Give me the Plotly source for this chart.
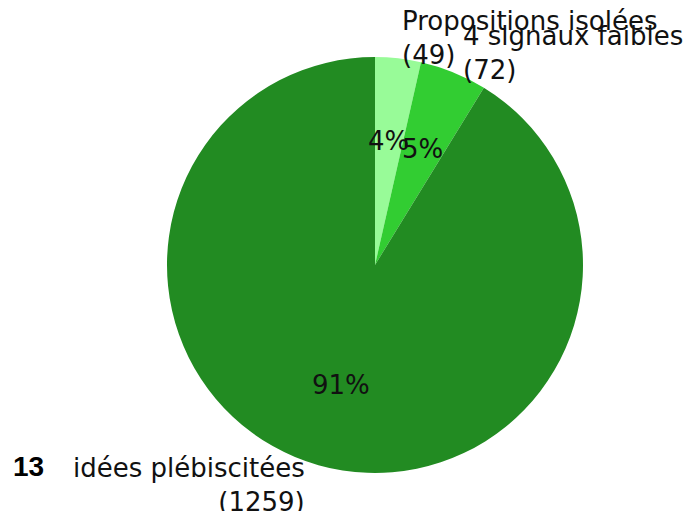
import math
import plotly.graph_objects as go

# Données du camembert
labels = ["Propositions isolées", "4 signaux faibles", "idées plébiscitées"]
values = [49, 72, 1259]
colors = ["#98FB98", "#32CD32", "#228B22"]
question_num = "13"

W, H = 688, 511
M = dict(l=167, r=105, t=57, b=38)

FONT = "DejaVu Sans, sans-serif"
FS = 26

fig = go.Figure(go.Pie(
    labels=labels,
    values=values,
    marker=dict(colors=colors, line=dict(width=0)),
    sort=False,
    direction="clockwise",
    rotation=0,
    textinfo="none",
    hoverinfo="label+value+percent",
    showlegend=False,
))

# étiquettes façon matplotlib : labeldistance=1.1, pctdistance=0.6
total = sum(values)
annotations = []
start = 90.0
for lab, v in zip(labels, values):
    span = 360.0 * v / total
    mid = math.radians(start - span / 2)
    start -= span
    cx, cy = math.cos(mid), math.sin(mid)
    annotations.append(dict(
        x=0.5 + 0.5 * 0.6 * cx, y=0.5 + 0.5 * 0.6 * cy,
        xref="paper", yref="paper", showarrow=False,
        text=f"{round(100 * v / total)}%",
        xanchor="center", yanchor="middle",
        font=dict(family=FONT, size=FS, color="#111"),
    ))
    right = cx > 0
    annotations.append(dict(
        x=0.5 + 0.5 * 1.1 * cx, y=0.5 + 0.5 * 1.1 * cy,
        xref="paper", yref="paper", showarrow=False,
        text=f"{lab}<br>({v})",
        xanchor="left" if right else "right", yanchor="middle",
        align="left" if right else "right",
        xshift=0 if right else -6,
        font=dict(family=FONT, size=FS, color="#111"),
    ))

annotations.append(dict(
    x=-0.375, y=0.015, xref="paper", yref="paper", showarrow=False,
    text=f"<b>{question_num}</b>", xanchor="left", yanchor="middle",
    font=dict(family="Liberation Sans, Arial, sans-serif", size=28, color="#000"),
))

fig.update_layout(
    width=W, height=H,
    margin=M,
    paper_bgcolor="white",
    plot_bgcolor="white",
    annotations=annotations,
)

# pas de marge ni de barres de défilement autour du graphique
fig.write_html(
    "out.html",
    config={"displayModeBar": False},
    post_script="document.body.style.margin='0';document.body.style.overflow='hidden';",
)
